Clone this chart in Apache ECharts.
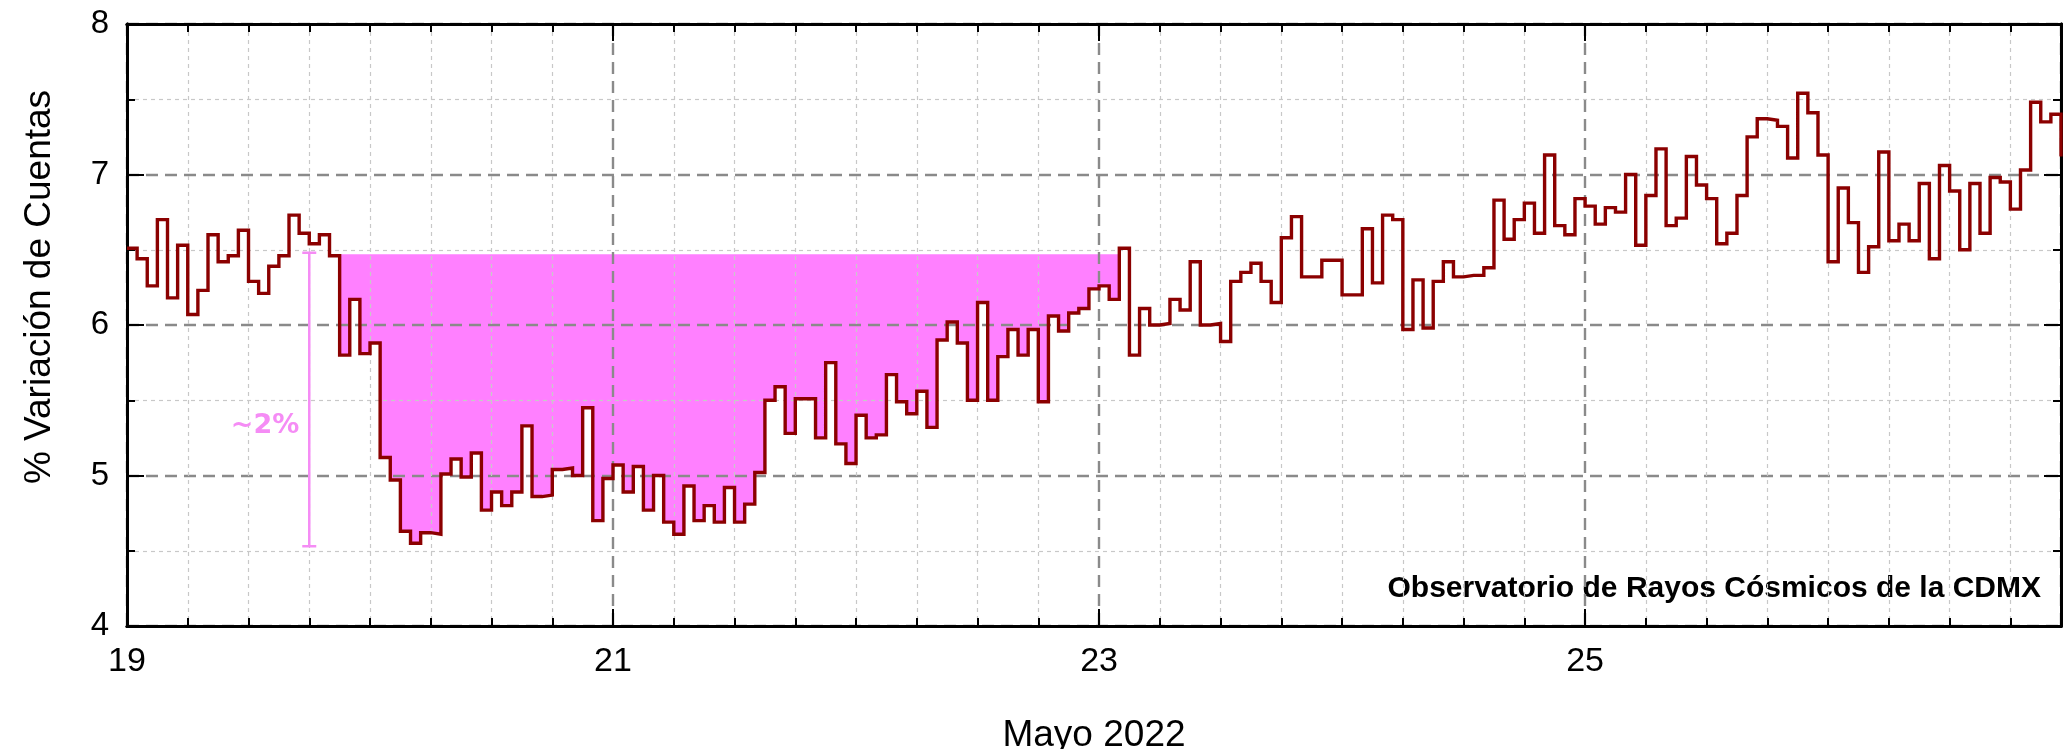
<!DOCTYPE html>
<html>
<head>
<meta charset="utf-8">
<script src="https://cdn.jsdelivr.net/npm/echarts@6/dist/echarts.min.js"></script>
<style>
html,body{margin:0;padding:0;background:#ffffff;}
#chart{width:2069px;height:749px;}
</style>
</head>
<body>
<div id="chart"></div>
<script>
// ---------------- DATA ----------------
const START_DAY = 19;            // 19 de mayo 2022, 00:00
const HOURS_PER_DAY = 24;

// hourly % count variation, one array per day
const day19 = [6.51, 6.44, 6.26, 6.70, 6.18, 6.53, 6.07, 6.23, 6.60, 6.42, 6.46, 6.63,
               6.29, 6.21, 6.39, 6.46, 6.73, 6.61, 6.54, 6.60, 6.46, 5.80, 6.17, 5.81];
const day20 = [5.88, 5.12, 4.97, 4.63, 4.55, 4.62, 4.61, 5.01, 5.11, 4.99, 5.15, 4.77,
               4.89, 4.80, 4.89, 5.33, 4.86, 4.87, 5.04, 5.05, 5.00, 5.45, 4.70, 4.98];
const day21 = [5.07, 4.89, 5.06, 4.77, 5.00, 4.69, 4.61, 4.93, 4.70, 4.80, 4.69, 4.92,
               4.69, 4.81, 5.02, 5.50, 5.59, 5.28, 5.51, 5.51, 5.25, 5.75, 5.21, 5.08];
const day22 = [5.40, 5.25, 5.27, 5.67, 5.49, 5.41, 5.56, 5.32, 5.90, 6.02, 5.88, 5.50,
               6.15, 5.50, 5.79, 5.97, 5.80, 5.97, 5.49, 6.06, 5.96, 6.08, 6.11, 6.24];
const day23 = [6.26, 6.17, 6.51, 5.80, 6.11, 6.00, 6.01, 6.17, 6.10, 6.42, 6.00, 6.01,
               5.89, 6.29, 6.35, 6.41, 6.29, 6.15, 6.58, 6.72, 6.32, 6.32, 6.43, 6.43];
const day24 = [6.20, 6.20, 6.64, 6.28, 6.73, 6.70, 5.97, 6.30, 5.98, 6.29, 6.42, 6.32,
               6.33, 6.33, 6.38, 6.83, 6.57, 6.70, 6.81, 6.61, 7.13, 6.66, 6.60, 6.84];
const day25 = [6.79, 6.67, 6.78, 6.75, 7.00, 6.53, 6.86, 7.17, 6.66, 6.71, 7.12, 6.93,
               6.84, 6.54, 6.61, 6.86, 7.25, 7.37, 7.36, 7.32, 7.11, 7.54, 7.41, 7.13];
const day26 = [6.42, 6.91, 6.68, 6.35, 6.52, 7.15, 6.56, 6.67, 6.56, 6.94, 6.44, 7.06,
               6.89, 6.50, 6.94, 6.61, 6.98, 6.95, 6.77, 7.03, 7.48, 7.35, 7.40, 7.12];

const X_TICK_LABELS = ['19', '21', '23', '25'];
const Y_TICK_LABELS = ['4', '5', '6', '7', '8'];

// Forbush decrease shading
const FILL_LEVEL = 6.47;
const FILL_FROM_HOUR = 21;
const FILL_TO_HOUR = 98;

// ~2% error bar annotation
const BAR_DAY = 19.75;
const BAR_LOW = 4.53;
const BAR_HIGH = 6.48;
const BAR_TEXT = '~2%';
const BAR_TEXT_VALUE = 5.33;

const X_NAME = 'Mayo 2022';
const Y_NAME = '% Variación de Cuentas';
const CREDIT = 'Observatorio de Rayos Cósmicos de la CDMX';

// ---------------- BUILD ----------------
const values = [].concat(day19, day20, day21, day22, day23, day24, day25, day26);
const hourToDay = h => START_DAY + h / HOURS_PER_DAY;
const seriesData = values.map((v, h) => [hourToDay(h), v]);
const xMax = hourToDay(values.length - 1);

const fillData = [];
for (let h = FILL_FROM_HOUR; h < FILL_TO_HOUR; h++) fillData.push([hourToDay(h), values[h]]);
fillData.push([hourToDay(FILL_TO_HOUR), FILL_LEVEL]);

const FONT = '"Liberation Sans", Arial, sans-serif';
const LINE_COLOR = '#8b0000';
const FILL_COLOR = '#ff80ff';
const ANNOT_COLOR = '#f58cf5';
const MAJOR_GRID = { color: '#8a8a8a', width: 2.4, type: [12, 7] };
const MINOR_GRID_COLOR = '#c8c8c8';

const xLabelFmt = v => {
  const s = String(Math.round(v));
  return (Math.abs(v - Math.round(v)) < 1e-6 && X_TICK_LABELS.indexOf(s) >= 0) ? s : '';
};
const yLabelFmt = v => {
  const s = String(Math.round(v));
  return Y_TICK_LABELS.indexOf(s) >= 0 ? s : '';
};

const xCommon = { type: 'value', min: START_DAY, max: xMax, gridIndex: 0 };
const yCommon = { type: 'value', min: 4, max: 8, gridIndex: 0 };
const frameLine = { show: true, onZero: false, lineStyle: { color: '#000', width: 3 } };

const minorXColors = ['rgba(0,0,0,0)', MINOR_GRID_COLOR, MINOR_GRID_COLOR, MINOR_GRID_COLOR,
                      MINOR_GRID_COLOR, MINOR_GRID_COLOR, MINOR_GRID_COLOR, MINOR_GRID_COLOR];

const option = {
  backgroundColor: '#ffffff',
  animation: false,
  grid: { left: 127, right: 8, top: 24, bottom: 123, containLabel: false, outerBoundsMode: 'none' },
  xAxis: [
    Object.assign({}, xCommon, {           // 0: minor, bottom
      position: 'bottom', interval: 0.25,
      axisLine: frameLine,
      axisTick: { show: true, inside: true, length: 8, lineStyle: { color: '#000', width: 2 } },
      axisLabel: { show: false },
      splitLine: { show: true, lineStyle: { color: minorXColors, width: 1.2, type: [4, 4] } }
    }),
    Object.assign({}, xCommon, {           // 1: major, bottom (labels)
      position: 'bottom', interval: 2,
      name: X_NAME, nameLocation: 'middle', nameGap: 91,
      nameTextStyle: { fontFamily: FONT, fontSize: 37, color: '#000' },
      axisLine: frameLine,
      axisTick: { show: true, inside: true, length: 17, lineStyle: { color: '#000', width: 2 } },
      axisLabel: { show: true, formatter: xLabelFmt, fontFamily: FONT, fontSize: 34, color: '#000', margin: 19 },
      splitLine: { show: true, lineStyle: MAJOR_GRID }
    }),
    Object.assign({}, xCommon, {           // 2: minor, top
      position: 'top', interval: 0.25,
      axisLine: frameLine,
      axisTick: { show: true, inside: true, length: 8, lineStyle: { color: '#000', width: 2 } },
      axisLabel: { show: false }, splitLine: { show: false }
    }),
    Object.assign({}, xCommon, {           // 3: major, top
      position: 'top', interval: 2,
      axisLine: frameLine,
      axisTick: { show: true, inside: true, length: 17, lineStyle: { color: '#000', width: 2 } },
      axisLabel: { show: false }, splitLine: { show: false }
    })
  ],
  yAxis: [
    Object.assign({}, yCommon, {           // 0: minor, left
      position: 'left', interval: 0.5,
      axisLine: frameLine,
      axisTick: { show: true, inside: true, length: 8, lineStyle: { color: '#000', width: 2 } },
      axisLabel: { show: false },
      splitLine: { show: true, lineStyle: { color: ['rgba(0,0,0,0)', MINOR_GRID_COLOR], width: 1.2, type: [4, 4] } }
    }),
    Object.assign({}, yCommon, {           // 1: major, left (labels)
      position: 'left', interval: 1,
      axisLine: frameLine,
      axisTick: { show: true, inside: true, length: 17, lineStyle: { color: '#000', width: 2 } },
      axisLabel: { show: true, formatter: yLabelFmt, fontFamily: FONT, fontSize: 33, color: '#000', margin: 18 },
      splitLine: { show: true, lineStyle: MAJOR_GRID }
    }),
    Object.assign({}, yCommon, {           // 2: minor, right
      position: 'right', interval: 0.5,
      axisLine: frameLine,
      axisTick: { show: true, inside: true, length: 8, lineStyle: { color: '#000', width: 2 } },
      axisLabel: { show: false }, splitLine: { show: false }
    }),
    Object.assign({}, yCommon, {           // 3: major, right
      position: 'right', interval: 1,
      axisLine: frameLine,
      axisTick: { show: true, inside: true, length: 17, lineStyle: { color: '#000', width: 2 } },
      axisLabel: { show: false }, splitLine: { show: false }
    })
  ],
  graphic: [
    {
      type: 'text', x: 40, y: 287, rotation: Math.PI / 2,
      style: { text: Y_NAME, font: '37px ' + FONT, fill: '#000', align: 'center', verticalAlign: 'middle' }
    },
    {
      type: 'text', x: 2041, y: 589,
      style: { text: CREDIT, font: 'bold 30px ' + FONT, fill: '#000', align: 'right', verticalAlign: 'middle' }
    }
  ],
  series: [
    {
      name: 'fill', type: 'line', step: 'end', xAxisIndex: 1, yAxisIndex: 1,
      data: fillData, showSymbol: false, silent: true, z: -1,
      lineStyle: { width: 0 },
      areaStyle: { color: FILL_COLOR, opacity: 1, origin: FILL_LEVEL }
    },
    {
      name: 'variacion', type: 'line', step: 'end', xAxisIndex: 1, yAxisIndex: 1,
      data: seriesData, showSymbol: false, z: 5,
      lineStyle: { color: LINE_COLOR, width: 3.4, join: 'miter' }
    },
    {
      name: 'bar', type: 'custom', xAxisIndex: 1, yAxisIndex: 1, z: 6, silent: true,
      data: [[BAR_DAY, BAR_LOW, BAR_HIGH, BAR_TEXT_VALUE]],
      renderItem: function (params, api) {
        const x = api.value(0);
        const pLo = api.coord([x, api.value(1)]);
        const pHi = api.coord([x, api.value(2)]);
        const pTxt = api.coord([x, api.value(3)]);
        const cap = 7;
        const st = { stroke: ANNOT_COLOR, lineWidth: 2.5 };
        return {
          type: 'group',
          children: [
            { type: 'line', shape: { x1: pLo[0], y1: pLo[1], x2: pHi[0], y2: pHi[1] }, style: st },
            { type: 'line', shape: { x1: pLo[0] - cap, y1: pLo[1], x2: pLo[0] + cap, y2: pLo[1] }, style: st },
            { type: 'line', shape: { x1: pHi[0] - cap, y1: pHi[1], x2: pHi[0] + cap, y2: pHi[1] }, style: st },
            { type: 'text', x: pTxt[0] - 10, y: pTxt[1],
              style: { text: BAR_TEXT, font: 'bold 27px "DejaVu Sans", sans-serif', fill: ANNOT_COLOR,
                       align: 'right', verticalAlign: 'middle' } }
          ]
        };
      }
    }
  ]
};

const chart = echarts.init(document.getElementById('chart'), null, { renderer: 'canvas' });
chart.setOption(option);
</script>
</body>
</html>
